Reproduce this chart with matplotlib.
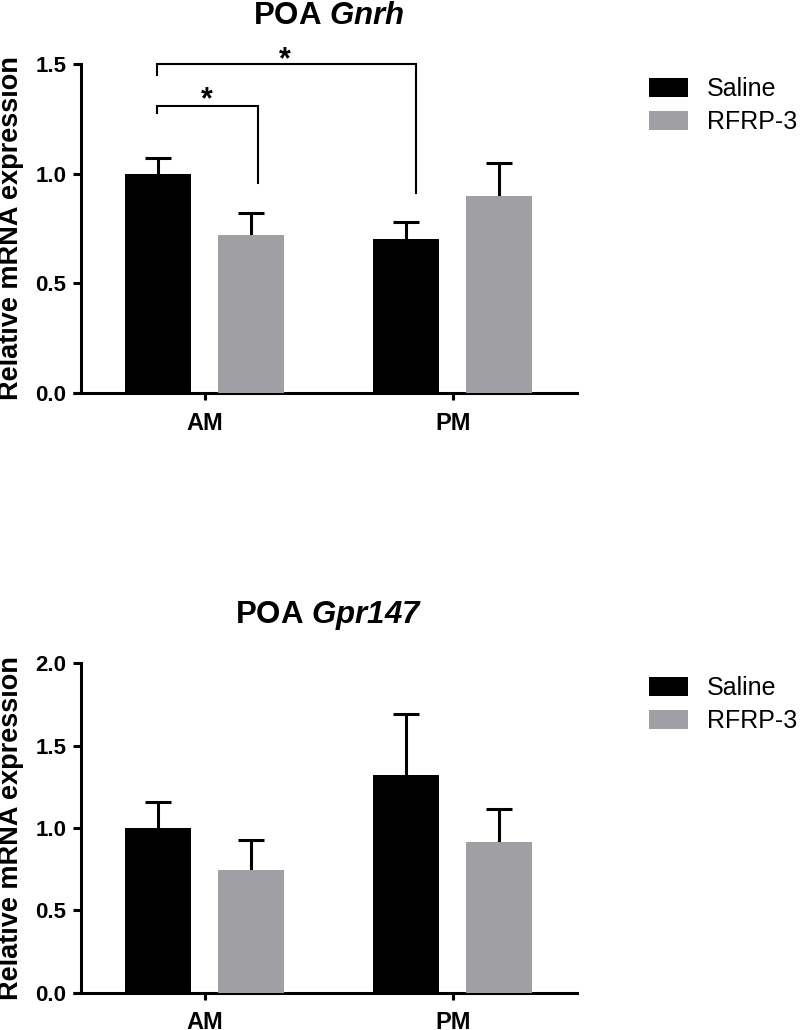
import matplotlib
matplotlib.use("Agg")
import matplotlib.pyplot as plt
from matplotlib.patches import Patch
from matplotlib.lines import Line2D

plt.rcParams['font.family'] = ['Liberation Sans', 'DejaVu Sans']
plt.rcParams['mathtext.fontset'] = 'custom'
plt.rcParams['mathtext.it'] = 'Liberation Sans:italic:bold'
plt.rcParams['mathtext.rm'] = 'Liberation Sans:italic:bold'

# ---- data ----
groups = ['AM', 'PM']
series = ['Saline', 'RFRP-3']
colors = ['#000000', '#A0A0A4']

gnrh_saline = [1.00, 0.70]
gnrh_saline_sem = [0.07, 0.08]
gnrh_rfrp = [0.72, 0.90]
gnrh_rfrp_sem = [0.10, 0.15]

gpr_saline = [1.00, 1.32]
gpr_saline_sem = [0.155, 0.37]
gpr_rfrp = [0.745, 0.917]
gpr_rfrp_sem = [0.18, 0.20]

gnrh_yticks = [0.0, 0.5, 1.0, 1.5]
gpr_yticks = [0.0, 0.5, 1.0, 1.5, 2.0]

# significance brackets: (x_left, x_right, y_line, y_left_end, y_right_end, star_x, star_y)
brackets = [
    (-0.191, 0.213, 1.309, 1.278, 0.959, 0.008, 1.298),
    (-0.191, 0.851, 1.500, 1.450, 0.912, 0.325, 1.479),
]

W, H = 800, 1030
fig = plt.figure(figsize=(W / 100, H / 100), dpi=100)

ax_left = 80.5 / W
ax_w = (577 - 80.5) / W
ax1 = fig.add_axes([ax_left, 1 - 393 / H, ax_w, 329 / H])
ax2 = fig.add_axes([ax_left, 1 - 992.7 / H, ax_w, 329.4 / H])

offset = 0.187
bw = 0.266
x = [0, 1]


def errbars(ax, xs, vals, errs):
    _, caps, _ = ax.errorbar(xs, vals, yerr=[[0] * len(vals), errs], fmt='none',
                             ecolor='black', elinewidth=2.2, capsize=9.5,
                             capthick=2.2, zorder=2)
    caps[0].set_visible(False)


def draw(ax, sal, sal_e, rf, rf_e, yticks, title_main, title_it, top_px):
    xs = [xi - offset for xi in x]
    xr = [xi + offset for xi in x]
    ax.bar(xs, sal, width=bw, color=colors[0], zorder=3, label=series[0])
    ax.bar(xr, rf, width=bw, color=colors[1], zorder=3, label=series[1])
    errbars(ax, xs, sal, sal_e)
    errbars(ax, xr, rf, rf_e)
    ax.set_xlim(-0.5, 1.5)
    ax.set_ylim(yticks[0], yticks[-1])
    ax.set_yticks(yticks)
    ax.set_yticklabels([f"{t:.1f}" for t in yticks])
    ax.set_xticks(x)
    ax.set_xticklabels(groups)
    for s in ['top', 'right']:
        ax.spines[s].set_visible(False)
    for s in ['left', 'bottom']:
        ax.spines[s].set_linewidth(2.2)
    ax.tick_params(axis='y', length=5.8, width=2.2, pad=4.5, labelsize=16)
    ax.tick_params(axis='x', length=5.0, width=2.2, pad=8.5, labelsize=17)
    for lab in ax.get_yticklabels() + ax.get_xticklabels():
        lab.set_fontweight('bold')
    ax.add_line(Line2D([-8 / (577 - 80.5), 0], [0, 0], transform=ax.transAxes,
                       color='black', lw=2.2, clip_on=False, solid_capstyle='butt'))
    ax.set_ylabel('Relative mRNA expression', fontsize=19.5, fontweight='bold', va='center')
    ax.yaxis.set_label_coords(-(80.5 - 11.5) / (577 - 80.5), 0.5)
    ax.text(0.5, 1 + 40 / 329, title_main + r' $\mathit{' + title_it + '}$',
            transform=ax.transAxes, ha='center', va='baseline',
            fontsize=22.5, fontweight='bold')
    handles = [Patch(facecolor=colors[0], edgecolor='none'),
               Patch(facecolor=colors[1], edgecolor='none')]
    fig.legend(handles, series, loc='upper left',
               bbox_to_anchor=(649 / W, 1 - top_px / H),
               frameon=False, fontsize=18, borderpad=0, borderaxespad=0,
               handlelength=1.56, handleheight=0.8, handletextpad=0.76,
               labelspacing=0.35)


draw(ax1, gnrh_saline, gnrh_saline_sem, gnrh_rfrp, gnrh_rfrp_sem, gnrh_yticks,
     'POA', 'Gnrh', 77)
draw(ax2, gpr_saline, gpr_saline_sem, gpr_rfrp, gpr_rfrp_sem, gpr_yticks,
     'POA', 'Gpr147', 676)

for (xl, xr_, yl, yle, yre, sx, sy) in brackets:
    ax1.plot([xl, xl, xr_, xr_], [yle, yl, yl, yre], color='black', lw=1.5,
             clip_on=False, zorder=4, solid_joinstyle='miter')
    ax1.text(sx, sy, '*', ha='center', va='baseline', fontsize=22,
             fontweight='bold', clip_on=False)

fig.savefig('out.png', dpi=100)
